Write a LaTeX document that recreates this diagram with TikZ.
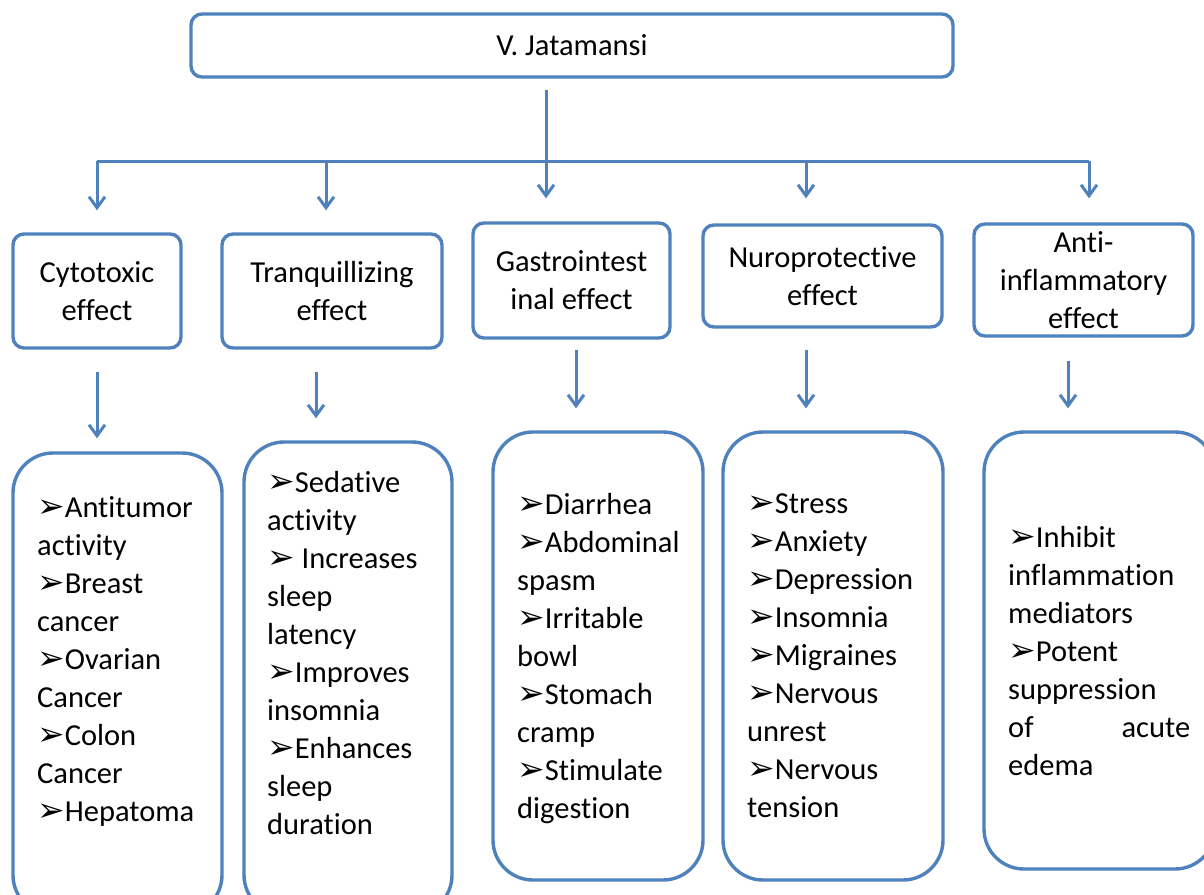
\documentclass[tikz,border=0pt]{standalone}
\usepackage{fontspec}
\setmainfont[Ligatures=NoCommon]{Carlito}
\newfontfamily\dejavu{DejaVu Sans}
\usetikzlibrary{arrows.meta}
\definecolor{bblue}{HTML}{4F81BD}
\newcommand{\bul}{{\dejavu\fontsize{33}{38}\selectfont ➢}}

\begin{document}
\begin{tikzpicture}[x=1pt,y=-1pt,
 box/.style={draw=bblue,line width=3.4pt,rounded corners=11pt,align=center,inner sep=0pt,font=\fontsize{30.5}{38}\selectfont},
 list/.style={draw=bblue,line width=3.4pt,rounded corners=40pt,inner sep=0pt},
 txt/.style={anchor=north west,inner sep=0pt,align=left,font=\fontsize{30.5}{38}\selectfont,execute at begin node=\strut},
 arr/.style={bblue,line width=3pt,-{Straight Barb[length=11pt,width=16pt]}},
 line/.style={bblue,line width=3pt}]
 \useasboundingbox (0,0) rectangle (1204,894);
 \clip (0,0) rectangle (1204,894);
 \node[box,minimum width=762pt,minimum height=63pt] (root) at (572,45.5) {V. Jatamansi}; %根
 \node[box,minimum width=168pt,minimum height=114pt] (tox) at (97,291) {Cytotoxic\\effect};
 \node[box,minimum width=220pt,minimum height=114pt] (tra) at (332,291) {Tranquillizing\\effect};
 \node[box,minimum width=197pt,minimum height=115pt] (gas) at (571.5,280.5) {Gastrointest\\inal effect};
 \node[box,minimum width=239pt,minimum height=102pt] (nur) at (822.5,276) {Nuroprotective\\effect};
 \node[box,minimum width=219pt,minimum height=112pt] (ant) at (1083.5,280) {Anti-\\inflammatory\\effect};
 \node[list,minimum width=209pt,minimum height=462pt] (toxl) at (117.5,684) {}; %下の枠
 \node[list,minimum width=208pt,minimum height=473pt] (tral) at (348,678.5) {};
 \node[list,minimum width=210pt,minimum height=448pt] (gasl) at (598,656) {};
 \node[list,minimum width=220pt,minimum height=448pt] (nurl) at (833,656) {};
 \node[list,minimum width=231pt,minimum height=437pt] (antl) at (1099.5,650.5) {};
 \node[txt] (toxt) at (37,496) {\bul{}Antitumor\\activity\\\bul{}Breast\\cancer\\\bul{}Ovarian\\Cancer\\\bul{}Colon\\Cancer\\\bul{}Hepatoma};
 \node[txt] (trat) at (267,471) {\bul{}Sedative\\activity\\\bul{} Increases\\sleep\\latency\\\bul{}Improves\\insomnia\\\bul{}Enhances\\sleep\\duration};
 \node[txt] (gast) at (517,493) {\bul{}Diarrhea\\\bul{}Abdominal\\spasm\\\bul{}Irritable\\bowl\\\bul{}Stomach\\cramp\\\bul{}Stimulate\\digestion};
 \node[txt] (nurt) at (747,493) {\bul{}Stress\\\bul{}Anxiety\\\bul{}Depression\\\bul{}Insomnia\\\bul{}Migraines\\\bul{}Nervous\\unrest\\\bul{}Nervous\\tension};
 \node[txt,text width=182pt] (antt) at (1008,521) {\bul{}Inhibit\\inflammation\\mediators\\\bul{}Potent\\suppression\\of\hfill acute\\edema};
 \coordinate (bar) at (546,161); %横線
 \draw[line] (bar -| 97,0) -- (bar -| 1089,0);
 \draw[arr,shorten <=11pt,shorten >=23pt] (root.south -| bar) -- (gas.north -| bar);
 \draw[arr,shorten >=22pt] (bar -| tox.north) -- (tox.north);
 \draw[arr,shorten >=22pt] (bar -| 326,0) -- (tra.north -| 326,0);
 \draw[arr,shorten >=25pt] (bar -| 806,0) -- (nur.north -| 806,0);
 \draw[arr,shorten >=24pt] (bar -| 1089,0) -- (ant.north -| 1089,0);
 \draw[arr,shorten <=22pt,shorten >=13pt] (tox.south) -- (toxl.north -| tox.south); %下向き矢印
 \draw[arr,shorten <=22pt,shorten >=22pt] (tra.south -| 316,0) -- (tral.north -| 316,0);
 \draw[arr,shorten <=10pt,shorten >=22pt] (gas.south -| 576,0) -- (gasl.north -| 576,0);
 \draw[arr,shorten <=21pt,shorten >=22pt] (nur.south -| 806,0) -- (nurl.north -| 806,0);
 \draw[arr,shorten <=23pt,shorten >=22pt] (ant.south -| 1068,0) -- (antl.north -| 1068,0);
\end{tikzpicture}
\end{document}
